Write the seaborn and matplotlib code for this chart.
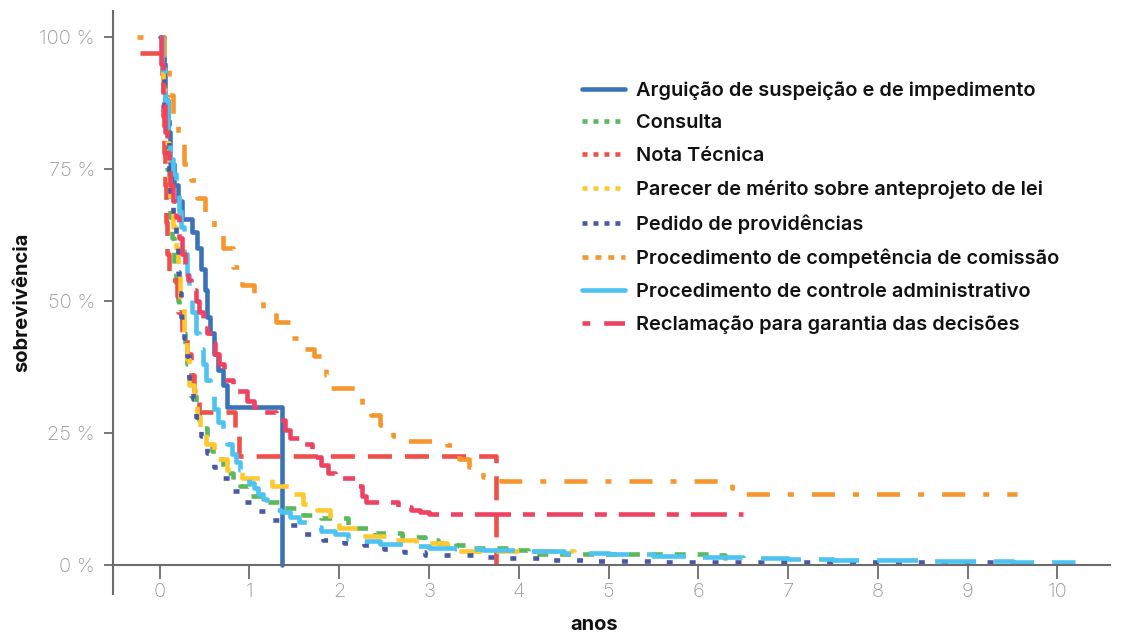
import pandas as pd
import matplotlib.pyplot as plt
import seaborn as sns
from matplotlib.lines import Line2D

# curvas de sobrevivência (anos, % sobrevivência)
tipos = [
    'Arguição de suspeição e de impedimento',
    'Consulta',
    'Nota Técnica',
    'Parecer de mérito sobre anteprojeto de lei',
    'Pedido de providências',
    'Procedimento de competência de comissão',
    'Procedimento de controle administrativo',
    'Reclamação para garantia das decisões',
]

anos_arguicao = [0.0, 0.03, 0.06, 0.09, 0.12, 0.16, 0.2, 0.25, 0.36, 0.42, 0.46, 0.5, 0.53,
                 0.56, 0.6, 0.65, 0.7, 0.75, 1.36]
sobrev_arguicao = [100, 95, 88, 82, 76, 72, 69, 65.5, 63, 60, 56, 52, 47,
                   44, 40, 37, 34, 30, 0]

anos_consulta = [0.0, 0.03, 0.05, 0.08, 0.1, 0.12, 0.14, 0.16, 0.18, 0.2, 0.22, 0.25, 0.28,
                 0.3, 0.33, 0.35, 0.4, 0.44, 0.47, 0.53, 0.58, 0.63, 0.7, 0.75, 0.82,
                 0.9, 1.0, 1.15, 1.35, 1.6, 1.8, 2.1, 2.4, 2.7, 2.95,
                 3.1, 3.3, 3.5, 3.9, 4.1, 6.22, 6.3]
sobrev_consulta = [100, 94, 88, 75, 70, 66, 62, 57, 53, 50, 48, 44, 41,
                   38, 35, 32, 29.5, 27.5, 26, 23, 21.5, 20, 18.5, 17.5, 16,
                   15, 13, 12, 10.8, 9.5, 8.9, 7, 6, 5.3, 4.7,
                   4.1, 3.8, 3.3, 2.8, 2.0, 1.9, 0.8]

anos_nota = [-0.22, 0.03, 0.04, 0.05, 0.06, 0.07, 0.08, 0.1, 0.19, 0.2, 0.25, 0.3, 0.35,
             0.38, 0.44, 0.84, 0.88, 3.75]
sobrev_nota = [97, 93, 85, 78, 72, 65, 59, 54, 51, 48, 44, 40, 36,
               33, 29, 25, 20.7, 0]

anos_parecer = [0.0, 0.04, 0.08, 0.1, 0.12, 0.15, 0.18, 0.2, 0.23, 0.27, 0.3, 0.33, 0.38,
                0.42, 0.45, 0.52, 0.6, 0.75, 0.92, 1.25, 1.45, 1.6, 1.75, 1.9, 2.0,
                2.25, 2.6, 2.85, 3.2, 3.3, 4.62]
sobrev_parecer = [100, 90, 80, 73, 68, 64, 60, 56, 50, 44, 39, 34, 31,
                  28, 26, 23, 20, 18, 16.5, 15, 13.5, 11.5, 10.5, 8, 7,
                  5.5, 4.7, 4.1, 3.5, 2.6, 2.5]

anos_pedido = [0.0, 0.05, 0.1, 0.12, 0.15, 0.18, 0.2, 0.22, 0.24, 0.27, 0.3, 0.33, 0.37,
               0.41, 0.46, 0.53, 0.6, 0.68, 0.78, 0.9, 1.05, 1.22, 1.42, 1.6, 1.82,
               2.05, 2.28, 2.5, 2.72, 2.95, 3.5, 3.8, 4.3, 4.8, 5.5, 6.0, 9.36]
sobrev_pedido = [100, 85, 72, 68, 64, 60, 55.5, 51.5, 47, 43, 39.5, 35.5, 31.5,
                 28, 24.5, 21.2, 18.5, 16.5, 14, 12, 10.3, 8.5, 7.5, 5.8, 4.8,
                 4.1, 3.7, 3.1, 2.5, 1.9, 1.6, 1.3, 1.0, 0.8, 0.6, 0.5, 0.5]

anos_comissao = [-0.25, 0.05, 0.1, 0.15, 0.2, 0.27, 0.35, 0.42, 0.5, 0.6, 0.7, 0.82, 0.92,
                 1.05, 1.15, 1.3, 1.45, 1.6, 1.72, 1.85, 1.9, 2.2, 2.25, 2.35, 2.45, 2.6,
                 2.75, 3.2, 3.33, 3.45, 3.6, 3.8, 6.3, 6.38, 6.5, 9.55]
sobrev_comissao = [100, 95, 89, 85, 80, 76, 73, 69.5, 66, 63, 60, 56.5, 53,
                   50, 48, 46, 43, 41, 39.5, 36, 33.5, 32, 30, 28.5, 26.5, 24.5,
                   23.5, 22.7, 20, 18.5, 16.7, 16, 16, 14.5, 13.4, 13.4]

anos_controle = [0.0, 0.03, 0.06, 0.09, 0.12, 0.15, 0.18, 0.21, 0.24, 0.27, 0.3, 0.33, 0.36,
                 0.4, 0.44, 0.48, 0.52, 0.56, 0.6, 0.65, 0.7, 0.75, 0.8, 0.85, 0.9,
                 0.95, 1.0, 1.05, 1.1, 1.15, 1.2, 1.28, 1.35, 1.45, 1.55, 1.67, 1.8,
                 1.95, 2.1, 2.25, 2.45, 2.75, 3.0, 3.3, 3.6, 4.0, 4.5, 5.0, 5.5,
                 6.0, 6.5, 7.0, 7.5, 8.0, 8.5, 9.0, 9.5, 10.0, 10.2]
sobrev_controle = [100, 94, 88, 82, 77, 74, 70, 67, 64, 59, 55, 51, 48,
                   44, 41, 38, 35, 32, 29.5, 27, 25, 23, 21, 19.5, 18,
                   16.5, 15.5, 14.5, 13.5, 12.5, 11.5, 10.5, 10, 9, 8.2, 7.2, 6.5,
                   5.8, 5, 4.5, 4, 3.5, 3.2, 3.0, 2.8, 2.6, 2.3, 2.0, 1.7,
                   1.5, 1.3, 1.15, 1.0, 0.9, 0.8, 0.7, 0.6, 0.5, 0.5]

anos_reclamacao = [0.0, 0.02, 0.04, 0.06, 0.08, 0.1, 0.12, 0.15, 0.18, 0.22, 0.25, 0.28, 0.31,
                   0.35, 0.4, 0.44, 0.48, 0.53, 0.58, 0.62, 0.66, 0.72, 0.82, 0.97, 1.05,
                   1.15, 1.3, 1.4, 1.45, 1.6, 1.7, 1.8, 1.88, 1.95, 2.2, 2.25, 2.3,
                   2.65, 2.8, 2.9, 3.0, 6.5]
sobrev_reclamacao = [100, 95, 88, 82, 78, 75, 72, 69, 66, 62, 59, 57, 54,
                     52, 50, 48, 46, 44, 42, 40, 38, 35, 33, 31, 30,
                     29, 27.5, 25.5, 24, 23, 20.5, 19, 17.5, 16.5, 15, 13, 12,
                     11, 10.5, 10, 9.7, 9.7]

cores = ['#3b73b9', '#5cb85c', '#f0504a', '#fec82f', '#4a58a6', '#f7962f', '#4cc3f0', '#ee4262']

# STEP 1: juntar tudo numa tabela longa
anos_lista = [anos_arguicao, anos_consulta, anos_nota, anos_parecer,
              anos_pedido, anos_comissao, anos_controle, anos_reclamacao]
sobrev_lista = [sobrev_arguicao, sobrev_consulta, sobrev_nota, sobrev_parecer,
                sobrev_pedido, sobrev_comissao, sobrev_controle, sobrev_reclamacao]

partes = []
for tipo, anos, sobrev in zip(tipos, anos_lista, sobrev_lista):
    partes.append(pd.DataFrame({'anos': anos, 'sobrevivencia': sobrev, 'tipo': tipo}))
df = pd.concat(partes, ignore_index=True)

# STEP 2: estilo
sns.set_theme(style='ticks')
plt.rcParams['font.family'] = ['Inter', 'DejaVu Sans']
plt.rcParams['lines.scale_dashes'] = False

# tracejados das curvas (em pontos)
tracos = {
    tipos[0]: '',
    tipos[1]: (7.9, 8.6),
    tipos[2]: (17.3, 9.4),
    tipos[3]: (16.6, 10),
    tipos[4]: (4.3, 12.2),
    tipos[5]: (4.3, 13, 16.6, 13),
    tipos[6]: (29.5, 13),
    tipos[7]: (26, 8.6, 8.6, 8.6),
}
paleta = dict(zip(tipos, cores))

fig = plt.figure(figsize=(11.21, 6.34), dpi=100)
ax = fig.add_axes([0.1008, 0.0631, 0.889, 0.92])

sns.lineplot(data=df, x='anos', y='sobrevivencia', hue='tipo', style='tipo',
             hue_order=tipos, style_order=tipos, palette=paleta, dashes=tracos,
             drawstyle='steps-post', linewidth=3.3, errorbar=None, legend=False, ax=ax)

# STEP 3: eixos
ax.set_xlim(-0.52, 10.58)
ax.set_ylim(-5.5, 105)
ax.spines['top'].set_visible(False)
ax.spines['right'].set_visible(False)
ax.spines['bottom'].set_position(('data', 0))
for lado in ['left', 'bottom']:
    ax.spines[lado].set_color('#6b6b6b')
    ax.spines[lado].set_linewidth(1.5)

ax.set_xticks(range(0, 11), [str(i) for i in range(0, 11)],
              fontweight='light', color='#999999', fontsize=14.5)
ax.set_yticks([0, 25, 50, 75, 100], ['0 %', '25 %', '50 %', '75 %', '100 %'],
              fontweight='light', color='#999999', fontsize=14.5)
ax.tick_params(axis='x', length=10, width=1.3, color='#6b6b6b', pad=3)
ax.tick_params(axis='y', length=6.5, width=1.3, color='#6b6b6b', pad=6.5)

ax.set_xlabel('anos', fontsize=14.5, fontweight='bold', color='#111111')
ax.set_ylabel('sobrevivência', fontsize=14.5, fontweight='bold', color='#111111')
ax.xaxis.set_label_coords(0.483, -0.037)
ax.yaxis.set_label_coords(-0.082, 0.5)

# STEP 4: legenda com amostras próprias
amostras = [
    '-',
    (0, (3.6, 4.3)),
    (0, (3.6, 4.3)),
    (0, (3.6, 4.3)),
    (0, (3.6, 4.3)),
    (0, (4.3, 5.0)),
    '-',
    (9.4, (15, 10)),
]
alcas = [Line2D([0], [0], color=c, linestyle=ls, linewidth=3.3) for c, ls in zip(cores, amostras)]
leg = ax.legend(alcas, tipos, loc='upper left', bbox_to_anchor=(582 / 1121, 1 - 81 / 634),
                bbox_transform=fig.transFigure, frameon=False, borderpad=0, borderaxespad=0,
                handlelength=2.15, handletextpad=0.55, labelspacing=0.745,
                prop={'size': 14.4, 'weight': 'semibold'})
for t in leg.get_texts():
    t.set_color('#111111')

plt.savefig('out.png', dpi=100)
plt.close()
